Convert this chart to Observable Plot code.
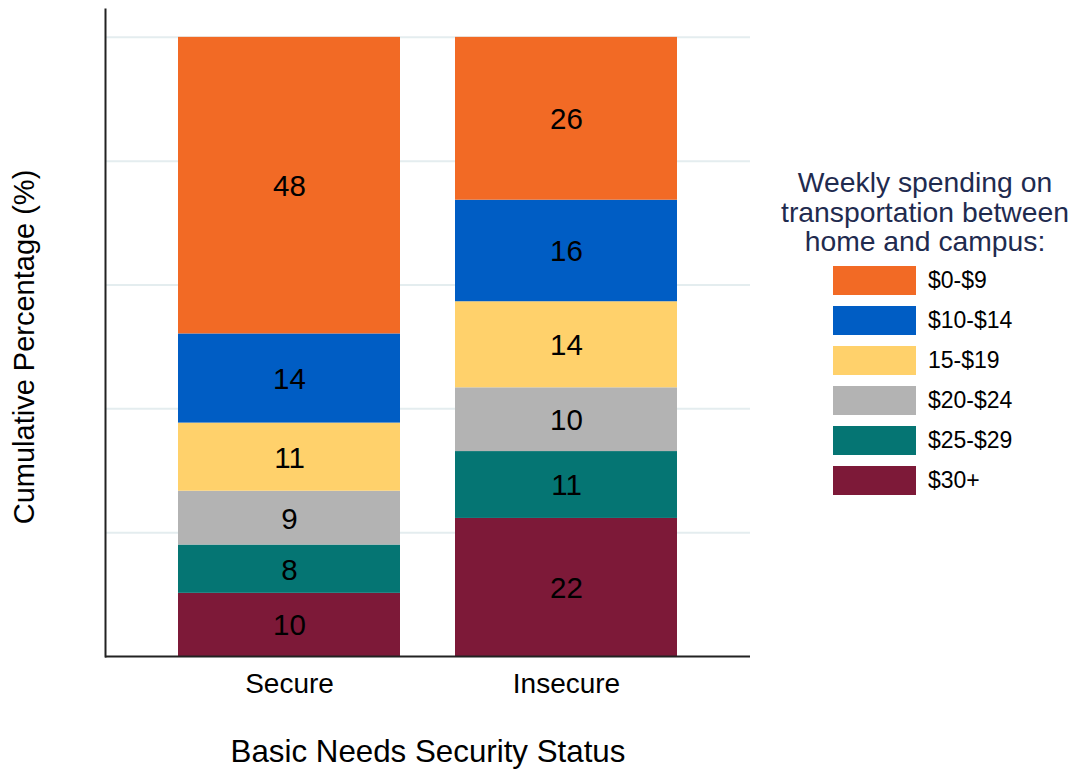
<!DOCTYPE html>
<html>
<head>
<meta charset="utf-8">
<script src="https://cdn.jsdelivr.net/npm/d3@7"></script>
<script src="https://cdn.jsdelivr.net/npm/@observablehq/plot@0.6"></script>
<style>
  body { margin: 0; background: #fff; font-family: "Liberation Sans", Arial, sans-serif; }
  #wrap { position: relative; width: 1075px; height: 769px; }
  #chart { position: absolute; left: 0; top: 0; }
  #legend { position: absolute; left: 780px; top: 168px; width: 290px; }
  #legend .title { text-align: center; color: #1f2b4f; font-size: 28.3px; line-height: 29.5px; }
  #legend .items { position: absolute; left: 53px; top: 98px; }
  #legend .row { display: flex; align-items: center; height: 29px; margin-bottom: 11px; }
  #legend .sw { width: 83px; height: 29px; margin-right: 12px; }
  #legend .lab { font-size: 23px; color: #000; }
</style>
</head>
<body>
<div id="wrap">
  <div id="chart"></div>
  <div id="legend"></div>
</div>
<script>
// Spending categories, bottom of stack to top
const categories = ["$30+", "$25-$29", "$20-$24", "15-$19", "$10-$14", "$0-$9"];
const colors = ["#7d1938", "#057573", "#b3b3b3", "#ffd16b", "#005dc4", "#f26a25"];
const groups = ["Secure", "Insecure"];
const secureValues = [10.2, 7.8, 8.7, 11.0, 14.4, 47.9];
const insecureValues = [22.3, 10.8, 10.3, 13.9, 16.4, 26.3];
const gridTicks = [20, 40, 60, 80, 100];
const legendTitle = ["Weekly spending on", "transportation between", "home and campus:"];
const xTitle = "Basic Needs Security Status";
const yTitle = "Cumulative Percentage (%)";

const data = [];
categories.forEach((c, i) => data.push({group: "Secure", cat: c, value: secureValues[i]}));
categories.forEach((c, i) => data.push({group: "Insecure", cat: c, value: insecureValues[i]}));

const font = '"Liberation Sans", Arial, sans-serif';

const chart = Plot.plot({
  width: 760,
  height: 769,
  marginLeft: 105,
  marginRight: 10,
  marginTop: 9,
  marginBottom: 113,
  style: {fontFamily: font, background: "white", color: "black"},
  x: {type: "band", domain: groups, paddingInner: 0.2, paddingOuter: 0.264, align: 0.5, axis: null},
  y: {domain: [0, 104.5], axis: null},
  color: {domain: categories, range: colors},
  marks: [
    Plot.gridY(gridTicks, {stroke: "#e4edef", strokeOpacity: 1, strokeWidth: 2}),
    Plot.barY(data, {x: "group", y: "value", fill: "cat", order: null}),
    Plot.text(data, Plot.stackY({x: "group", y: "value", order: null, text: d => String(Math.round(d.value)), fill: "black", fontSize: 29.5, fontFamily: font, dy: 1})),
    Plot.ruleY([0], {stroke: "#222", strokeWidth: 2}),
    Plot.frame({anchor: "left", stroke: "#222", strokeWidth: 2}),
    Plot.axisX({tickSize: 0, tickPadding: 17, fontSize: 28, label: null}),
    Plot.axisX({tickSize: 0, tickFormat: () => "", fontSize: 31.3, label: xTitle, labelAnchor: "center", labelOffset: 105, labelArrow: "none"}),
    Plot.axisY({tickSize: 0, tickFormat: () => "", fontSize: 29, label: yTitle, labelAnchor: "center", labelOffset: 92, labelArrow: "none"})
  ]
});
// nudge the y-axis title down to match the reference's centring
const yl = chart.querySelector('[aria-label="y-axis label"]');
if (yl) {
  const tr = yl.getAttribute("transform") || "";
  yl.setAttribute("transform", "translate(0,14) " + tr);
}
document.getElementById("chart").appendChild(chart);

const legend = document.getElementById("legend");
const t = document.createElement("div");
t.className = "title";
t.innerHTML = legendTitle.join("<br>");
legend.appendChild(t);
const items = document.createElement("div");
items.className = "items";
categories.slice().reverse().forEach(c => {
  const row = document.createElement("div");
  row.className = "row";
  const sw = document.createElement("div");
  sw.className = "sw";
  sw.style.background = colors[categories.indexOf(c)];
  const lab = document.createElement("span");
  lab.className = "lab";
  lab.textContent = c;
  row.appendChild(sw);
  row.appendChild(lab);
  items.appendChild(row);
});
legend.appendChild(items);
</script>
</body>
</html>
